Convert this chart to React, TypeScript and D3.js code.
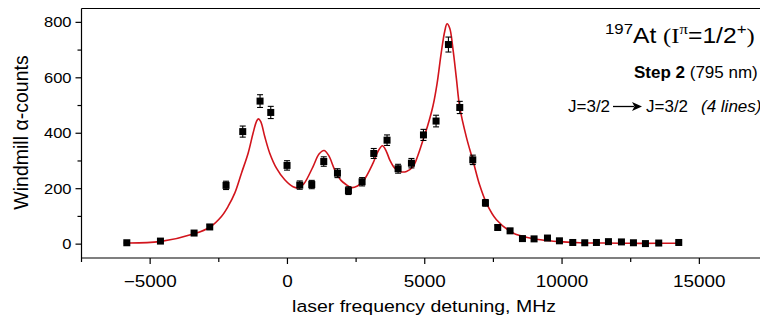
import * as d3 from 'd3';

// measured points
const detuning = [
  -5850, -4625, -3400, -2830, -2236, -1628, -998, -608, -15, 448, 885, 1322, 1821, 2221, 2718, 3143,
  3627, 4029, 4515, 4953, 5412, 5862, 6275, 6749, 7210, 7658, 8107, 8558, 8981, 9469, 9905, 10390,
  10827, 11252, 11690, 12163, 12600, 13037, 13521, 14250,
];
const counts = [
  5, 11, 40, 62, 212, 406, 516, 475, 284, 213, 215, 298, 256, 193, 225, 327, 375, 272, 292, 394, 444,
  720, 493, 304, 149, 60, 48, 20, 19, 22, 12, 6, 5, 6, 9, 8, 5, 2, 4, 6,
];
const errors = [
  2, 3, 6, 8, 15, 20, 23, 22, 17, 15, 15, 17, 16, 14, 15, 18, 19, 16, 17, 20, 21, 27, 22, 17, 12, 8,
  7, 4, 4, 5, 3, 2, 2, 2, 3, 3, 2, 1, 2, 2,
];

// fitted curve
const fitX = [
  -5850, -4650, -3368, -2830, -2404, -2162, -1919, -1675, -1432, -1253, -1130, -1060, -972, -827,
  -645, -401, -98, 204, 400, 600, 933, 1150, 1333, 1500, 1722, 1950, 2149, 2331, 2550, 2753, 3117,
  3300, 3460, 3600, 3725, 3900, 4090, 4334, 4574, 4750, 4938, 5100, 5303, 5450, 5600, 5728, 5812,
  5910, 6031, 6150, 6275, 6518, 6760, 7003, 7246, 7611, 8216, 8823, 9430, 10036, 10645, 11500,
  12500, 13500, 14250,
];
const fitY = [
  4, 9, 38, 61, 100, 136, 184, 256, 328, 400, 442, 452, 442, 388, 328, 274, 232, 207, 203, 218, 280,
  325, 338, 320, 268, 230, 214, 204, 210, 226, 292, 335, 355, 335, 304, 275, 262, 262, 280, 320, 376,
  425, 500, 580, 690, 768, 795, 779, 701, 600, 493, 385, 300, 212, 148, 88, 40, 22, 13, 8, 5, 4, 3,
  3, 3,
];

const xTicks = [-5000, 0, 5000, 10000, 15000];
const xMinor = [-7500, -2500, 2500, 7500, 12500];
const yTicks = [0, 200, 400, 600, 800];
const yMinor = [100, 300, 500, 700];

const W = 760;
const H = 322;
const font = '"Liberation Sans", Arial, Helvetica, sans-serif';
const serif = '"Liberation Serif", "Times New Roman", serif';
const SX = 1.18; // the figure's lettering is a bit wide

export default function App() {
  const x = d3.scaleLinear().domain([-7500, 17500]).range([81.5, 768]);
  const y = d3.scaleLinear().domain([-50, 850]).range([258, 8.5]);

  const line = d3
    .line<number>()
    .x((_, i) => x(fitX[i]))
    .y((d) => y(d))
    .curve(d3.curveCatmullRom.alpha(0.5));

  const left = x.range()[0];
  const bottom = y.range()[0];
  const top = y.range()[1];

  return (
    <svg width={W} height={H} style={{ position: 'absolute', left: 0, top: 0 }} fontFamily={font}>
      <rect width={W} height={H} fill="#fff" />

      {/* frame */}
      <g stroke="#000" strokeWidth={1.2} fill="none">
        <line x1={left} x2={W} y1={top} y2={top} />
        <line x1={left} x2={W} y1={bottom} y2={bottom} />
        <line x1={left} x2={left} y1={top} y2={bottom} />
      </g>

      {/* y axis */}
      {yTicks.map((t) => (
        <g key={t}>
          <line x1={left - 6} x2={left} y1={y(t)} y2={y(t)} stroke="#000" strokeWidth={1.2} />
          <text
            transform={`translate(${left - 10},${y(t)}) scale(${SX},1)`}
            dy="0.36em"
            textAnchor="end"
            fontSize={14}
          >
            {t}
          </text>
        </g>
      ))}
      {yMinor.map((t) => (
        <line key={t} x1={left - 4} x2={left} y1={y(t)} y2={y(t)} stroke="#000" strokeWidth={1.2} />
      ))}

      {/* x axis */}
      {xTicks.map((t) => (
        <g key={t}>
          <line x1={x(t)} x2={x(t)} y1={bottom} y2={bottom + 6} stroke="#000" strokeWidth={1.2} />
          <text transform={`translate(${x(t)},${bottom + 28.5}) scale(${SX},1)`} textAnchor="middle" fontSize={16}>
            {t < 0 ? '\u2212' + Math.abs(t) : t}
          </text>
        </g>
      ))}
      {xMinor.map((t) => (
        <line key={t} x1={x(t)} x2={x(t)} y1={bottom} y2={bottom + 4} stroke="#000" strokeWidth={1.2} />
      ))}

      <text transform={`translate(424,312) scale(${SX},1)`} textAnchor="middle" fontSize={16.5}>
        laser frequency detuning, MHz
      </text>
      <text transform="translate(27.5,132.5) rotate(-90)" textAnchor="middle" fontSize={19.5}>
        Windmill α-counts
      </text>

      {/* fit */}
      <path d={line(fitY) ?? ''} fill="none" stroke="#d2141c" strokeWidth={1.6} />

      {/* data with error bars */}
      {detuning.map((d, i) => {
        const cx = x(d);
        const cy = y(counts[i]);
        const y0 = y(counts[i] - errors[i]);
        const y1 = y(counts[i] + errors[i]);
        return (
          <g key={i}>
            <g stroke="#000" strokeWidth={1.1}>
              <line x1={cx} x2={cx} y1={y0} y2={y1} />
              <line x1={cx - 3} x2={cx + 3} y1={y0} y2={y0} />
              <line x1={cx - 3} x2={cx + 3} y1={y1} y2={y1} />
            </g>
            <rect x={cx - 3.5} y={cy - 3.5} width={7} height={7} fill="#000" />
          </g>
        );
      })}

      {/* annotations */}
      <text transform="translate(605,43) scale(1.12,1)" fontSize={22}>
        <tspan fontSize={15} dy={-9}>197</tspan>
        <tspan dy={9}>At </tspan>
        <tspan fontFamily={serif}>(I</tspan>
        <tspan fontFamily={serif} fontSize={15} dy={-9}>π</tspan>
        <tspan dy={9}>=1/2</tspan>
        <tspan fontSize={15} dy={-9}>+</tspan>
        <tspan dy={9} fontFamily={serif}>)</tspan>
      </text>
      <text x={634} y={78} fontSize={17}>
        <tspan fontWeight="bold">Step 2</tspan>
        <tspan> (795 nm)</tspan>
      </text>
      <text x={568} y={112} fontSize={17}>
        J=3/2
      </text>
      <line x1={613} x2={634} y1={106.5} y2={106.5} stroke="#000" strokeWidth={1.3} />
      <path d="M632,102 L642,106.5 L632,111 L634.5,106.5 Z" fill="#000" />
      <text x={646} y={112} fontSize={17}>
        J=3/2
      </text>
      <text x={701} y={112} fontSize={17} fontStyle="italic">
        (4 lines)
      </text>
    </svg>
  );
}
